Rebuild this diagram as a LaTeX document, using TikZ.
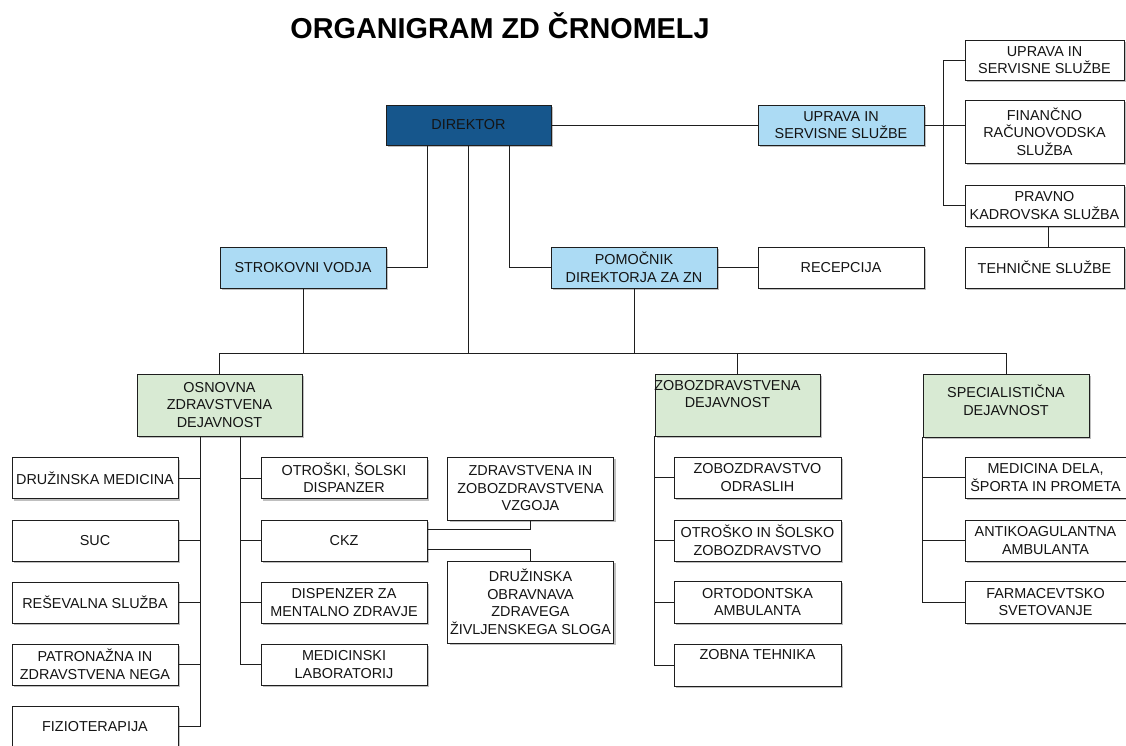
\documentclass[tikz,border=0pt]{standalone}
\usepackage{fontspec}
\setmainfont{Liberation Sans}
\usetikzlibrary{shadows}
\definecolor{dirblue}{RGB}{22,86,140}
\definecolor{ltblue}{RGB}{172,219,244}
\definecolor{ltgreen}{RGB}{216,234,211}
\definecolor{edge}{RGB}{30,30,30}
\definecolor{txt}{RGB}{20,20,20}
\tikzset{
  box/.style={draw=edge, line width=0.9pt, fill=white, rectangle, inner sep=0pt,
    align=center, text=txt, font=\fontsize{14.4}{17.5}\selectfont,
    drop shadow={shadow xshift=2pt, shadow yshift=-2pt, opacity=0.25, fill=black}},
  bluebox/.style={box, fill=ltblue},
  greenbox/.style={box, fill=ltgreen},
  dirbox/.style={box, fill=dirblue},
  conn/.style={draw=edge, line width=0.9pt},
}
\begin{document}
\begin{tikzpicture}[x=1pt,y=-1pt]
\useasboundingbox (0,0) rectangle (1126,745);
\fill[white] (0,0) rectangle (1126,745);

\node[font=\bfseries\fontsize{28.8}{30}\selectfont, text=black, anchor=base] (title) at (500,38) {ORGANIGRAM ZD ČRNOMELJ};

% top level
\node[dirbox, minimum width=165pt, minimum height=40pt] (dir) at (468.5,125) {DIREKTOR};
\node[bluebox, minimum width=166pt, minimum height=40pt] (upr) at (841,125) {UPRAVA IN\\SERVISNE SLUŽBE};
\node[bluebox, minimum width=166pt, minimum height=41pt] (strok) at (303,267.5) {STROKOVNI VODJA};
\node[bluebox, minimum width=166pt, minimum height=41pt] (pom) at (634,267.5) {POMOČNIK\\DIREKTORJA ZA ZN};
\node[box, minimum width=166pt, minimum height=41pt] (rec) at (841,267.5) {RECEPCIJA};

% right column
\node[box, minimum width=159pt, minimum height=40pt] (u1) at (1044.5,60) {UPRAVA IN\\SERVISNE SLUŽBE};
\node[box, minimum width=159pt, minimum height=63pt] (fin) at (1044.5,131.5) {FINANČNO\\RAČUNOVODSKA\\SLUŽBA};
\node[box, minimum width=159pt, minimum height=41pt] (prav) at (1044.5,205.5) {PRAVNO\\KADROVSKA SLUŽBA};
\node[box, minimum width=159pt, minimum height=41pt] (teh) at (1044.5,267.5) {TEHNIČNE SLUŽBE};

% second level
\node[greenbox, minimum width=165pt, minimum height=62pt] (osn) at (219.5,405) {OSNOVNA\\ZDRAVSTVENA\\DEJAVNOST};
\node[greenbox, minimum width=165pt, minimum height=62pt] (zob) at (737.5,405)
  {\parbox[c][62pt][t]{165pt}{\vspace*{6pt}\hspace*{-10pt}\parbox{165pt}{\centering ZOBOZDRAVSTVENA\\DEJAVNOST}}};
\node[greenbox, minimum width=166pt, minimum height=63pt] (spec) at (1006,405.5)
  {\parbox[c][63pt][t]{166pt}{\vspace*{11pt}\centering SPECIALISTIČNA\\DEJAVNOST}};

% OSNOVNA left column
\node[box, minimum width=166pt, minimum height=41pt] (dm) at (95,478) {DRUŽINSKA MEDICINA};
\node[box, minimum width=166pt, minimum height=41pt] (suc) at (95,540.5) {SUC};
\node[box, minimum width=166pt, minimum height=41pt] (res) at (95,602.5) {REŠEVALNA SLUŽBA};
\node[box, minimum width=166pt, minimum height=41pt] (pat) at (95,664.5) {PATRONAŽNA IN\\ZDRAVSTVENA NEGA};
\node[box, minimum width=166pt, minimum height=41pt] (fiz) at (95,726.5) {FIZIOTERAPIJA};

% OSNOVNA right column
\node[box, minimum width=166pt, minimum height=41pt] (otr) at (344,478) {OTROŠKI, ŠOLSKI\\DISPANZER};
\node[box, minimum width=166pt, minimum height=41pt] (ckz) at (344,540.5) {CKZ};
\node[box, minimum width=166pt, minimum height=41pt] (disp) at (344,602.5) {DISPENZER ZA\\MENTALNO ZDRAVJE};
\node[box, minimum width=166pt, minimum height=41pt] (lab) at (344,664.5) {MEDICINSKI\\LABORATORIJ};

\node[box, minimum width=166pt, minimum height=63pt] (vzg) at (530.5,488.5) {ZDRAVSTVENA IN\\ZOBOZDRAVSTVENA\\VZGOJA};
\node[box, minimum width=166pt, minimum height=82pt] (dob) at (530.5,602) {DRUŽINSKA\\OBRAVNAVA\\ZDRAVEGA\\ŽIVLJENSKEGA SLOGA};

% ZOBOZDRAVSTVENA column
\node[box, minimum width=167pt, minimum height=41pt] (zo) at (757.5,477.5) {ZOBOZDRAVSTVO\\ODRASLIH};
\node[box, minimum width=167pt, minimum height=41pt] (oz) at (757.5,540.5) {OTROŠKO IN ŠOLSKO\\ZOBOZDRAVSTVO};
\node[box, minimum width=167pt, minimum height=42pt] (ort) at (757.5,602) {ORTODONTSKA\\AMBULANTA};
\node[box, minimum width=167pt, minimum height=42pt] (zt) at (757.5,665)
  {\parbox[c][42pt][t]{167pt}{\vspace*{5pt}\centering ZOBNA TEHNIKA}};

% SPECIALISTIČNA column
\node[box, minimum width=161pt, minimum height=41pt] (med) at (1045.5,477.5) {MEDICINA DELA,\\ŠPORTA IN PROMETA};
\node[box, minimum width=161pt, minimum height=41pt] (ant) at (1045.5,540.5) {ANTIKOAGULANTNA\\AMBULANTA};
\node[box, minimum width=161pt, minimum height=42pt] (far) at (1045.5,602) {FARMACEVTSKO\\SVETOVANJE};

% connectors
\coordinate (bus) at (0,353);
\draw[conn] (dir.east) -- (upr.west);
\draw[conn] ([xshift=-41.5pt]dir.south) |- (strok.east);
\draw[conn] ([xshift=40.5pt]dir.south) |- (pom.west);
\draw[conn] (dir.south) -- (dir.south |- bus);
\draw[conn] (strok.south) -- (strok.south |- bus);
\draw[conn] (pom.south) -- (pom.south |- bus);
\draw[conn] (pom.east) -- (rec.west);
\draw[conn] (osn.north) |- (spec.north |- bus) -- (spec.north);
\draw[conn] (zob.north) -- (zob.north |- bus);

\coordinate (rj) at ([xshift=-21pt]u1.west);
\draw[conn] (upr.east) -- (upr.east -| fin.west);
\draw[conn] (u1.west) -- (rj) |- (prav.west);
\draw[conn] ([xshift=3.5pt]prav.south) -- ([xshift=3.5pt]teh.north);

\coordinate (lv) at ([xshift=-19.5pt]osn.south);
\coordinate (rv) at ([xshift=20.5pt]osn.south);
\draw[conn] (lv) |- (fiz.east);
\foreach \n in {dm,suc,res,pat} \draw[conn] (\n.east) -- (\n.east -| lv);
\draw[conn] (rv) |- (lab.west);
\foreach \n in {otr,ckz,disp} \draw[conn] (\n.west) -- (\n.west -| rv);

\draw[conn] ([yshift=11pt]ckz.east) -| (vzg.south);
\draw[conn] ([yshift=-8.5pt]ckz.east) -| (dob.north);

\draw[conn] (zob.south west) |- (zt.west);
\foreach \n in {zo,oz,ort} \draw[conn] (\n.west) -- (\n.west -| zob.south west);

\draw[conn] (spec.south west) |- (far.west);
\foreach \n in {med,ant} \draw[conn] (\n.west) -- (\n.west -| spec.south west);
\end{tikzpicture}
\end{document}
